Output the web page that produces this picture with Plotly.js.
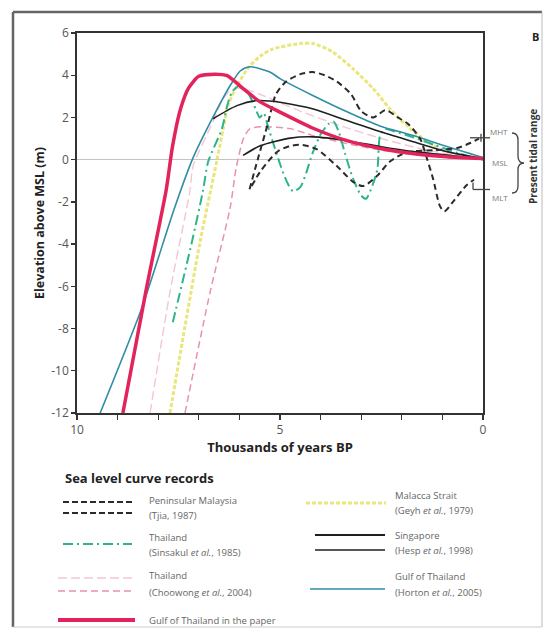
<!DOCTYPE html>
<html>
<head>
<meta charset="utf-8">
<script src="https://cdn.plot.ly/plotly-3.0.1.min.js"></script>
<style>html,body{margin:0;padding:0;background:#fff;}#chart{width:545px;height:636px;}</style>
</head>
<body>
<div id="chart"></div>
<script>
// ---- Data (age in thousands of years BP, elevation in m above MSL) ----
const paperAge  = [8.87, 8.3, 7.8, 7.65, 7.45, 7.25, 7.0, 6.6, 6.3, 5.9, 5.5, 5.0, 4.2, 3.35, 2.5, 1.7, 0.9, 0];
const paperElev = [-12, -6.2, -1.4, 0.6, 2.4, 3.4, 3.95, 4.05, 3.98, 3.35, 2.75, 2.25, 1.5, 0.9, 0.52, 0.28, 0.14, 0.05];

const hortonAge  = [9.43, 8.4, 7.6, 7.15, 6.67, 6.23, 5.98, 5.74, 5.25, 5.0, 4.18, 3.35, 2.54, 1.72, 0.89, 0];
const hortonElev = [-12, -7.0, -2.3, 0.05, 1.94, 3.5, 4.2, 4.4, 4.15, 3.84, 3.03, 2.27, 1.6, 1.14, 0.62, 0.1];

const geyhAge  = [7.71, 7.34, 6.97, 6.55, 6.4, 6.28, 6.1, 5.8, 5.49, 5.17, 4.5, 4.18, 3.7, 3.2, 2.7, 2.29, 1.87, 1.48, 1.1];
const geyhElev = [-12, -7.9, -3.9, 0, 1.47, 2.56, 3.36, 4.3, 4.9, 5.25, 5.5, 5.5, 5.1, 4.3, 3.36, 2.4, 1.6, 1.0, 0.55];

const sinsakulAge  = [7.64, 7.17, 6.9, 6.77, 6.43, 6.3, 6.18, 6.0, 5.8, 5.6, 5.5, 5.4, 5.3, 5.17, 5.0, 4.83, 4.68, 4.5, 4.35, 4.2, 4.0, 3.8, 3.68, 3.55, 3.4, 3.2, 3.0, 2.88, 2.72, 2.6, 2.54, 2.42, 2.2, 1.7, 1.2, 0.6, 0];
const sinsakulElev = [-7.7, -3.9, -1.5, -0.1, 1.47, 2.56, 3.2, 3.5, 3.2, 2.4, 2.0, 2.2, 1.6, 0.8, -0.2, -1.05, -1.5, -1.3, -0.6, 0.3, 1.2, 1.7, 1.8, 1.3, 0.3, -0.9, -1.7, -1.85, -1.2, -0.43, 1.1, 1.45, 1.35, 1.05, 0.7, 0.3, 0];

const choowongUpAge  = [8.2, 7.71, 7.22, 7.14, 6.65, 6.4, 6.2, 6.0, 5.5, 4.5, 3.5, 2.5, 1.5, 0.5, 0];
const choowongUpElev = [-12, -6.26, -1.5, -0.3, 1.8, 2.9, 3.3, 3.4, 3.1, 2.3, 1.6, 1.0, 0.5, 0.15, 0];

const choowongLoAge  = [7.34, 6.72, 6.23, 6.08, 5.9, 5.74, 5.42, 4.75, 4.18, 3.35, 2.5, 1.5, 0.5, 0];
const choowongLoElev = [-12, -6.26, -2.3, -0.4, 1.0, 1.47, 1.56, 1.47, 1.14, 0.76, 0.45, 0.2, 0.05, 0];

const hespUpAge  = [6.65, 6.06, 5.57, 5.25, 5.0, 4.18, 3.35, 2.54, 1.72, 0.89, 0];
const hespUpElev = [1.94, 2.56, 2.8, 2.78, 2.72, 2.4, 1.85, 1.33, 0.85, 0.38, 0.05];

const hespLoAge  = [5.91, 5.49, 4.75, 4.18, 3.35, 2.54, 1.72, 0.49, 0];
const hespLoElev = [0.2, 0.66, 1.02, 1.08, 0.9, 0.62, 0.38, 0.14, 0.05];

const tjiaUpAge  = [5.75, 5.55, 5.3, 5.1, 4.85, 4.5, 4.2, 3.9, 3.6, 3.25, 3.0, 2.7, 2.4, 2.1, 1.85, 1.55, 1.38, 1.23, 1.06, 0.95, 0.74, 0.4, 0.22];
const tjiaUpElev = [-1.4, 0, 1.7, 3.1, 3.7, 4.05, 4.15, 4.0, 3.7, 3.1, 2.3, 2.0, 2.35, 2.0, 1.7, 1.0, 0.05, -0.9, -2.2, -2.45, -2.0, -1.2, -0.95];

const tjiaLoAge  = [5.7, 5.5, 5.3, 5.05, 4.75, 4.45, 4.1, 3.6, 3.2, 2.95, 2.6, 2.3, 2.0, 1.7, 1.2, 0.64, 0.3, 0.1];
const tjiaLoElev = [-1.25, -0.6, -0.1, 0.4, 0.65, 0.7, 0.5, -0.3, -1.05, -1.25, -0.75, -0.1, 0.25, 0.4, 0.45, 0.55, 0.8, 1.0];

const xTickVals = [10, 9, 8, 7, 6, 5, 4, 3, 2, 1, 0];
const xTickText = ['10', '', '', '', '', '5', '', '', '', '', '0'];
const yTickVals = [-12, -10, -8, -6, -4, -2, 0, 2, 4, 6];
const yTickText = ['-12', '-10', '-8', '-6', '-4', '-2', '0', '2', '4', '6'];

const tidalLevels = {MHT: 1.1, MLT: -1.35};

// ---- Styles ----
const C = {
  tjia: '#2b2b2b', geyh: '#e9e67c', sinsakul: '#2db38e', choowongUp: '#f5c8d6',
  choowongLo: '#e793aa', hesp: '#1f1f1f', horton: '#2f8ea5', paper: '#e3245c'
};

function tr(x, y, color, width, dash, smooth) {
  return {x: x, y: y, type: 'scatter', mode: 'lines', showlegend: false, hoverinfo: 'skip',
    line: {color: color, width: width, dash: dash, shape: 'spline', smoothing: smooth === undefined ? 0.7 : smooth}};
}

const traces = [
  tr(choowongUpAge, choowongUpElev, C.choowongUp, 1.5, '9px,4px'),
  tr(choowongLoAge, choowongLoElev, C.choowongLo, 1.5, '7px,4px'),
  tr(geyhAge, geyhElev, C.geyh, 3, '4px,2px'),
  tr(sinsakulAge, sinsakulElev, C.sinsakul, 2, '10px,4px,2px,4px'),
  tr(hortonAge, hortonElev, C.horton, 1.6, 'solid'),
  tr(hespUpAge, hespUpElev, C.hesp, 1.6, 'solid'),
  tr(hespLoAge, hespLoElev, C.hesp, 1.6, 'solid'),
  tr(tjiaUpAge, tjiaUpElev, C.tjia, 2, '6px,4px'),
  tr(tjiaLoAge, tjiaLoElev, C.tjia, 2, '6px,4px'),
  tr(paperAge, paperElev, C.paper, 3.5, 'solid', 0.6)
];

// ---- Pixel -> paper helpers for decorations ----
const W = 545, H = 636, ML = 77, MR = 62, MT = 33, MB = 223;
const PW = W - ML - MR, PH = H - MT - MB;
const px = v => (v - ML) / PW;
const py = v => (H - MB - v) / PH;

const shapes = [];
const annotations = [];
function hline(x0, x1, y, color, width, dash) {
  shapes.push({type: 'line', xref: 'paper', yref: 'paper', x0: px(x0), x1: px(x1), y0: py(y), y1: py(y),
    line: {color: color, width: width, dash: dash || 'solid'}});
}
function vline(x, y0, y1, color, width) {
  shapes.push({type: 'line', xref: 'paper', yref: 'paper', x0: px(x), x1: px(x), y0: py(y0), y1: py(y1),
    line: {color: color, width: width}});
}
function text(x, y, t, opts) {
  annotations.push(Object.assign({xref: 'paper', yref: 'paper', x: px(x), y: py(y), text: t, showarrow: false,
    xanchor: 'left', yanchor: 'middle', font: {family: 'Open Sans, sans-serif', size: 9.5, color: '#666'}}, opts || {}));
}

// outer frame
vline(13, 12, 627, '#666', 2.5);
hline(13, 542, 12, '#666', 2.5);
vline(542, 12, 627, '#bbb', 1);
hline(13, 542, 627, '#ccc', 1);

// tidal markers
const yMHTpx = 161 - tidalLevels.MHT * 21.1;
const yMLTpx = 161 - tidalLevels.MLT * 21.1;
hline(470, 490, yMHTpx, '#444', 1.3);
vline(481, yMHTpx - 4, yMHTpx + 4, '#444', 1.3);
hline(473, 490, yMLTpx, '#444', 1.3);
vline(473, yMLTpx - 7, yMLTpx, '#444', 1.3);
// brace
shapes.push({type: 'path', xref: 'paper', yref: 'paper',
  path: 'M ' + px(512) + ',' + py(133) + ' Q ' + px(518) + ',' + py(133) + ' ' + px(518) + ',' + py(140) +
        ' L ' + px(518) + ',' + py(156) + ' Q ' + px(518) + ',' + py(163) + ' ' + px(524) + ',' + py(163) +
        ' Q ' + px(518) + ',' + py(163) + ' ' + px(518) + ',' + py(170) +
        ' L ' + px(518) + ',' + py(186) + ' Q ' + px(518) + ',' + py(193) + ' ' + px(512) + ',' + py(193),
  line: {color: '#444', width: 1.3}});
text(499, 131, 'MHT', {xanchor: 'center', font: {family: 'Open Sans, sans-serif', size: 8, color: '#777'}});
text(500, 163, 'MSL', {xanchor: 'center', font: {family: 'Open Sans, sans-serif', size: 8, color: '#777'}});
text(500, 197, 'MLT', {xanchor: 'center', font: {family: 'Open Sans, sans-serif', size: 8, color: '#777'}});
text(533, 157, '<b>Present tidal range</b>', {xanchor: 'center', textangle: -90, font: {family: 'Open Sans, sans-serif', size: 10, color: '#333'}});
text(535, 36, '<b>B</b>', {xanchor: 'center', font: {family: 'Open Sans, sans-serif', size: 11, color: '#222'}});

// legend
text(63, 478, '<b>Sea level curve records</b>', {font: {family: 'Open Sans, sans-serif', size: 13, color: '#222'}});
// Tjia
hline(63, 132, 502, C.tjia, 2, '6px,3px');
hline(63, 132, 513, C.tjia, 2, '6px,3px');
text(147, 500, 'Peninsular Malaysia');
text(147, 515, '(Tjia, 1987)');
// Geyh
hline(306, 386, 503, C.geyh, 3, '4px,2px');
text(393, 495, 'Malacca Strait');
text(393, 510, '(Geyh <i>et al.</i>, 1979)');
// Sinsakul
hline(63, 132, 544, C.sinsakul, 1.8, '10px,4px,2px,4px');
text(147, 537, 'Thailand');
text(147, 552, '(Sinsakul <i>et al.</i>, 1985)');
// Hesp
hline(315, 385, 535, C.hesp, 2);
hline(315, 385, 550, C.hesp, 1.6);
text(393, 535, 'Singapore');
text(393, 550, '(Hesp <i>et al.</i>, 1998)');
// Choowong
hline(58, 132, 578, C.choowongUp, 1.5, '9px,4px');
hline(58, 132, 591, C.choowongLo, 1.5, '7px,4px');
text(147, 575, 'Thailand');
text(147, 592, '(Choowong <i>et al.</i>, 2004)');
// Horton
hline(310, 385, 589, C.horton, 1.6);
text(393, 576, 'Gulf of Thailand');
text(393, 592, '(Horton <i>et al.</i>, 2005)');
// Paper
hline(58, 135, 620, C.paper, 4);
text(147, 620, 'Gulf of Thailand in the paper');

const layout = {
  width: W, height: H,
  margin: {l: ML, r: MR, t: MT, b: MB, pad: 0},
  paper_bgcolor: '#fff', plot_bgcolor: '#fff',
  font: {family: 'Open Sans, sans-serif', color: '#444', size: 12},
  showlegend: false,
  xaxis: {
    range: [10, 0], tickmode: 'array', tickvals: xTickVals, ticktext: xTickText,
    ticks: 'outside', ticklen: 5, tickwidth: 1.3, tickcolor: '#333',
    showline: true, mirror: true, linecolor: '#333', linewidth: 1.8,
    showgrid: false, zeroline: false, tickfont: {size: 12, color: '#555'},
    title: {text: '<b>Thousands of years BP</b>', font: {size: 13, color: '#222'}, standoff: 4}
  },
  yaxis: {
    range: [-12, 6], tickmode: 'array', tickvals: yTickVals, ticktext: yTickText,
    ticks: 'outside', ticklen: 4, tickwidth: 1.3, tickcolor: '#333',
    showline: true, mirror: true, linecolor: '#333', linewidth: 1.8,
    showgrid: false, zeroline: true, zerolinecolor: '#c4c4c4', zerolinewidth: 1.5,
    tickfont: {size: 12, color: '#555'},
    title: {text: '<b>Elevation above MSL (m)</b>', font: {size: 12.5, color: '#222'}, standoff: 4}
  },
  shapes: shapes,
  annotations: annotations
};

Plotly.newPlot('chart', traces, layout, {staticPlot: true, displayModeBar: false});
</script>
</body>
</html>
